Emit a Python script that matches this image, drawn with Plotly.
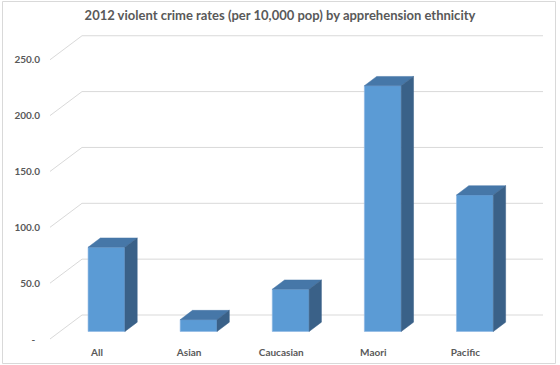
import plotly.graph_objects as go

# ---- data ----
categories = ["All", "Asian", "Caucasian", "Maori", "Pacific"]
rates = [75.4, 10.6, 37.8, 220.0, 122.2]
tick_values = [0, 50, 100, 150, 200, 250]
tick_labels = ["-\u00a0\u00a0", "50.0", "100.0", "150.0", "200.0", "250.0"]
title_text = "2012 violent crime rates (per 10,000 pop) by apprehension ethnicity"

# ---- style / geometry ----
W, H = 560, 365
FRONT = "#5B9BD5"
TOP = "#4677A8"
SIDE = "#3A6188"
GRID = "#D9D9D9"
TXT = "#595959"
FONT = "Lato"

px_per_unit = 1.117          # vertical scale
bar_zero_px = 331.5          # y pixel of bar baseline
band_px = 92.1               # category spacing
first_center_px = 106.5
bar_w = 0.40
depth_dx = 12.3 / band_px    # in category units
depth_dy = 9.3 / px_per_unit # in value units
back_dy = (bar_zero_px - 315.0) / px_per_unit
front_dy = (339.0 - bar_zero_px) / px_per_unit
label_shift = 9.5 / band_px  # category labels sit left of the bars (front floor edge)

y_top = bar_zero_px / px_per_unit
y_bot = -(H - bar_zero_px) / px_per_unit
x_left_px = first_center_px - band_px / 2
x_right_px = first_center_px + band_px * (len(categories) - 0.5)

xs = list(range(len(categories)))

fig = go.Figure()

# front faces
fig.add_trace(go.Bar(
    x=xs, y=rates, width=bar_w, marker=dict(color=FRONT, line=dict(color="#8DB6E3", width=0.6)),
    hoverinfo="skip", showlegend=False))

# top and side faces
tx, ty, sx, sy = [], [], [], []
for i, v in zip(xs, rates):
    l, r = i - bar_w / 2, i + bar_w / 2
    tx += [l, r, r + depth_dx, l + depth_dx, l, None]
    ty += [v, v, v + depth_dy, v + depth_dy, v, None]
    sx += [r, r, r + depth_dx, r + depth_dx, r, None]
    sy += [0, v, v + depth_dy, depth_dy, 0, None]
fig.add_trace(go.Scatter(x=tx, y=ty, fill="toself", fillcolor=TOP, mode="lines",
                         line=dict(color=TOP, width=0.5), hoverinfo="skip", showlegend=False))
fig.add_trace(go.Scatter(x=sx, y=sy, fill="toself", fillcolor=SIDE, mode="lines",
                         line=dict(color=SIDE, width=0.5), hoverinfo="skip", showlegend=False))

# invisible trace for the label axes
fig.add_trace(go.Scatter(x=[None], y=[None], xaxis="x2", yaxis="y2", showlegend=False, hoverinfo="skip"))

# back wall gridlines + floor diagonals
shapes = []
for v in tick_values:
    shapes.append(dict(type="line", xref="paper", yref="y", layer="below",
                       x0=82 / W, x1=543 / W, y0=v + back_dy, y1=v + back_dy,
                       line=dict(color=GRID, width=1)))
    shapes.append(dict(type="line", xref="paper", yref="y", layer="below",
                       x0=50 / W, x1=82 / W, y0=v - front_dy, y1=v + back_dy,
                       line=dict(color=GRID, width=1)))
# chart border
shapes.append(dict(type="rect", xref="paper", yref="paper",
                   x0=2.5 / W, x1=555.5 / W, y0=1 - 363.5 / H, y1=1 - 1.5 / H,
                   line=dict(color=GRID, width=1), layer="below"))

fig.update_layout(
    width=W, height=H,
    margin=dict(l=0, r=0, t=0, b=0, pad=0, autoexpand=False),
    paper_bgcolor="white", plot_bgcolor="rgba(0,0,0,0)",
    shapes=shapes,
    title=dict(text=title_text, x=0.5, xanchor="center", xref="paper",
               y=1 - 15 / H, yref="container", yanchor="middle", automargin=False,
               font=dict(family=FONT, size=13, color=TXT, weight="bold")),
    xaxis=dict(range=[-0.5, len(categories) - 0.5], domain=[x_left_px / W, x_right_px / W],
               visible=False, fixedrange=True),
    yaxis=dict(range=[y_bot, y_top], domain=[0, 1], visible=False, fixedrange=True),
    xaxis2=dict(range=[-0.5 + label_shift, len(categories) - 0.5 + label_shift], automargin=False,
                overlaying="x", anchor="free", position=(H - 345) / H, side="bottom",
                tickmode="array", tickvals=xs, ticktext=categories,
                showgrid=False, zeroline=False, showline=False, ticks="",
                tickfont=dict(family=FONT, size=10, color=TXT, weight="bold")),
    yaxis2=dict(range=[y_bot + front_dy, y_top + front_dy], overlaying="y", automargin=False,
                anchor="free", position=40 / W, side="left",
                tickmode="array", tickvals=tick_values, ticktext=tick_labels,
                showgrid=False, zeroline=False, showline=False, ticks="",
                tickfont=dict(family=FONT, size=10, color=TXT, weight="bold")),
)

fig.write_html("out.html", config={"displayModeBar": False},
               post_script="document.body.style.margin='0';document.body.style.padding='0';")
